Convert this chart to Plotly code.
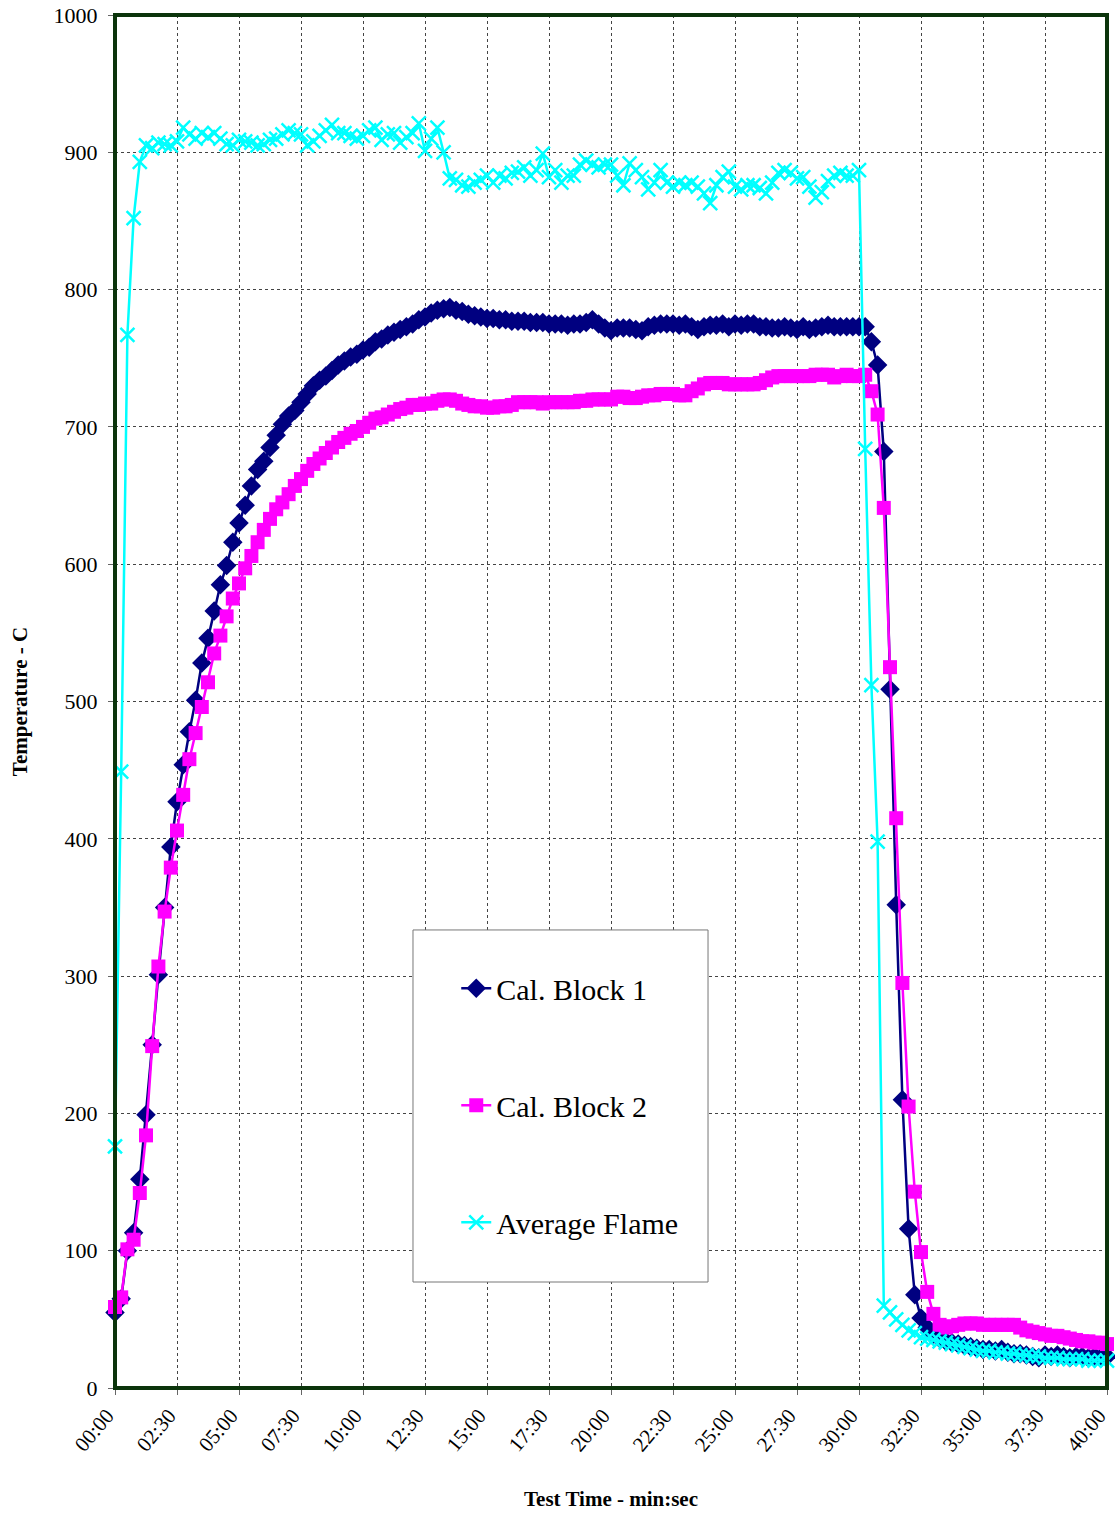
import plotly.graph_objects as go

# sampling interval 15 s -> times in minutes
N_POINTS = 161
time_min = [i * 0.25 for i in range(N_POINTS)]

cal_block_1 = [
    55, 65, 100, 113, 152, 199, 250, 301, 350, 394,
    427, 454, 478, 501, 528, 546, 566, 585, 599, 616,
    630, 643, 657, 669, 675, 685, 694, 702, 708, 712,
    718, 724, 730, 734, 737, 741, 745, 748, 751, 753,
    756, 758, 762, 764, 767, 769, 771, 773, 775, 778,
    780, 783, 785, 786, 787, 785, 784, 782, 781, 780,
    779, 779, 778, 778, 777, 777, 777, 776, 776, 776,
    775, 775, 775, 774, 775, 775, 776, 778, 775, 772,
    770, 772, 772, 772, 771, 770, 773, 774, 775, 775,
    775, 774, 775, 773, 771, 773, 774, 774, 775, 773,
    775, 774, 775, 775, 773, 773, 772, 772, 773, 772,
    771, 773, 771, 772, 773, 774, 773, 773, 773, 773,
    773, 773, 762, 745, 682, 509, 352, 210, 116, 68,
    51, 44, 39, 36, 34, 33, 32, 31, 30, 29,
    28, 28, 27, 28, 26, 25, 25, 24, 23, 22,
    24, 23, 24, 23, 22, 23, 23, 22, 23, 22,
    23,
]

cal_block_2 = [
    59, 66, 101, 108, 142, 184, 249, 307, 347, 379,
    406, 432, 458, 477, 496, 514, 535, 548, 562, 575,
    586, 597, 606, 616, 625, 633, 640, 645, 651, 657,
    662, 668, 673, 677, 681, 685, 689, 692, 695, 697,
    700, 703, 706, 707, 709, 711, 713, 714, 716, 716,
    717, 717, 719, 720, 720, 719, 717, 716, 715, 715,
    714, 714, 715, 715, 716, 718, 718, 718, 718, 717,
    718, 718, 718, 718, 718, 719, 719, 720, 720, 720,
    720, 722, 722, 721, 721, 722, 723, 723, 724, 724,
    724, 723, 723, 726, 728, 731, 732, 732, 732, 731,
    731, 731, 731, 731, 732, 734, 736, 737, 737, 737,
    737, 737, 737, 738, 738, 738, 736, 737, 738, 737,
    737, 738, 726, 709, 641, 525, 415, 295, 205, 143,
    99, 70, 54, 46, 44, 45, 46, 47, 47, 47,
    46, 46, 46, 46, 46, 46, 44, 42, 41, 40,
    39, 38, 38, 37, 36, 35, 34, 34, 33, 33,
    32,
]

average_flame = [
    176, 449, 767, 852, 893, 905, 903, 907, 906, 905,
    908, 918, 913, 910, 914, 911, 914, 910, 906, 905,
    909, 908, 907, 905, 906, 909, 910, 913, 916, 914,
    913, 905, 908, 912, 916, 920, 914, 914, 912, 910,
    912, 916, 918, 909, 913, 914, 907, 911, 914, 921,
    901, 910, 918, 900, 881, 880, 876, 875, 878, 880,
    883, 878, 883, 881, 885, 886, 889, 883, 887, 899,
    882, 887, 878, 883, 883, 891, 894, 891, 889, 891,
    891, 883, 876, 892, 887, 882, 873, 878, 887, 878,
    875, 878, 876, 878, 875, 870, 863, 876, 882, 886,
    875, 873, 876, 876, 874, 870, 878, 885, 887, 885,
    881, 882, 875, 867, 871, 879, 883, 885, 883, 883,
    887, 684, 512, 398, 60, 55, 50, 46, 42, 40,
    37, 36, 35, 34, 33, 32, 31, 30, 29, 28,
    27, 27, 26, 26, 25, 25, 24, 24, 23, 23,
    22, 22, 22, 21, 21, 21, 21, 20, 20, 20,
    20,
]

tick_vals = [0, 2.5, 5, 7.5, 10, 12.5, 15, 17.5, 20, 22.5, 25, 27.5, 30, 32.5, 35, 37.5, 40]
tick_labels = ["00:00", "02:30", "05:00", "07:30", "10:00", "12:30", "15:00", "17:30",
               "20:00", "22:30", "25:00", "27:30", "30:00", "32:30", "35:00", "37:30", "40:00"]

series_names = ["Cal. Block 1", "Cal. Block 2", "Average Flame"]

FONT = "Liberation Serif"

fig = go.Figure()
fig.add_trace(go.Scatter(
    x=time_min, y=cal_block_1, name=series_names[0], mode="lines+markers",
    line=dict(color="#000080", width=2.5),
    marker=dict(symbol="diamond", size=15, color="#000080"),
    cliponaxis=False, legendgroup="a",
))
fig.add_trace(go.Scatter(
    x=time_min, y=cal_block_2, name=series_names[1], mode="lines+markers",
    line=dict(color="#FF00FF", width=2.5),
    marker=dict(symbol="square", size=14, color="#FF00FF"),
    cliponaxis=False, legendgroup="b",
))
fig.add_trace(go.Scatter(
    x=time_min, y=average_flame, name=series_names[2], mode="lines+markers",
    line=dict(color="#00FFFF", width=2.5),
    marker=dict(symbol="x-thin", size=14, color="#00FFFF", line=dict(color="#00FFFF", width=2.5)),
    cliponaxis=False, legendgroup="c",
))

fig.update_layout(
    width=1115, height=1514,
    margin=dict(l=115, r=8, t=15, b=126),
    paper_bgcolor="white", plot_bgcolor="white",
    font=dict(family=FONT, color="black", size=22),
    showlegend=True,
    legend=dict(
        x=0.344, y=0.310, xanchor="left", yanchor="top",
        bgcolor="rgba(0,0,0,0)", borderwidth=0,
        font=dict(family=FONT, size=30, color="black"),
        traceorder="grouped", tracegroupgap=75,
    ),
    xaxis=dict(
        range=[-0.0001, 40.0001], tickmode="array", tickvals=tick_vals, ticktext=tick_labels,
        tickangle=-50, tickfont=dict(family=FONT, size=21), ticklabeloverflow="allow",
        ticklabelshift=-8,
        showgrid=True, gridcolor="#444444", griddash="dot", gridwidth=1,
        ticks="outside", ticklen=6, tickcolor="#666666",
        zeroline=False, showline=False, automargin=False,
        title=dict(text="<b>Test Time - min:sec</b>", font=dict(family=FONT, size=21), standoff=35),
    ),
    yaxis=dict(
        range=[0, 1000], tickmode="array", tickvals=list(range(0, 1001, 100)),
        tickfont=dict(family=FONT, size=22), ticklabelstandoff=6, ticklabeloverflow="allow",
        showgrid=True, gridcolor="#444444", griddash="dot", gridwidth=1,
        ticks="outside", ticklen=6, tickcolor="#666666",
        zeroline=False, showline=False, automargin=False,
        title=dict(text="<b>Temperature - C</b>", font=dict(family=FONT, size=21), standoff=20),
    ),
    shapes=[
        dict(type="rect", xref="paper", yref="paper", x0=0.3004, x1=0.5978, y0=0.0772, y1=0.3336,
             fillcolor="white", line=dict(color="#777777", width=1), layer="above"),
        dict(type="rect", xref="paper", yref="paper", x0=0, x1=1, y0=0, y1=1,
             fillcolor="rgba(0,0,0,0)", line=dict(color="#0B340B", width=4), layer="above"),
    ],
)

fig.write_html("out.html", config={"displayModeBar": False},
               post_script="document.body.style.margin='0';")
